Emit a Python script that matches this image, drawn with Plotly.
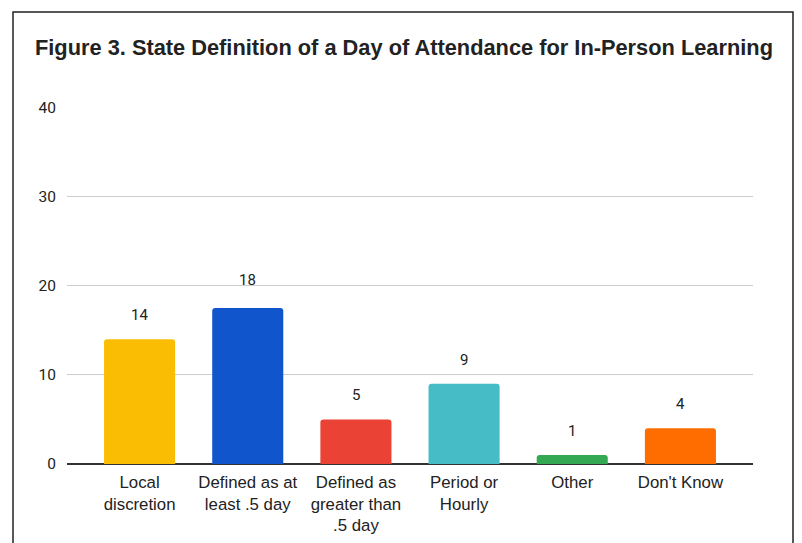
import plotly.graph_objects as go

categories = ["Local<br>discretion", "Defined as at<br>least .5 day", "Defined as<br>greater than<br>.5 day",
              "Period or<br>Hourly", "Other", "Don't Know"]
values = [14, 17.5, 5, 9, 1, 4]
labels = ["14", "18", "5", "9", "1", "4"]
label_pos = [14, 18, 5, 9, 1, 4]
colors = ["#FBBC04", "#1155CC", "#EA4335", "#46BDC6", "#34A853", "#FF6D01"]
y_ticks = [0, 10, 20, 30, 40]

W, H = 794, 535
top, bottom = 99, 456

fig = go.Figure()
fig.add_trace(go.Bar(x=categories, y=values, marker=dict(color=colors, line=dict(width=0), cornerradius=3),
                     hoverinfo="skip"))

for c, v, t in zip(categories, label_pos, labels):
    fig.add_annotation(x=c, y=v, text=t, showarrow=False, yshift=24,
                       font=dict(family="Roboto", size=15, color="#222222"))

ph = bottom - top
fig.add_shape(type="rect", xref="paper", yref="paper", x0=-0.0787, x1=1.0583,
              y0=-0.3, y1=(bottom - 4) / ph,
              line=dict(color="#222222", width=1.5), fillcolor="rgba(0,0,0,0)", layer="below")

fig.update_layout(
    width=W, height=H,
    margin=dict(l=59, r=W - 745, t=top, b=H - bottom),
    paper_bgcolor="white", plot_bgcolor="white",
    showlegend=False,
    bargap=0.343,
    title=dict(text="<b>Figure 3. State Definition of a Day of Attendance for In-Person Learning</b>",
               x=27 / W, xanchor="left", y=1 - 39 / H, yanchor="middle",
               font=dict(family="Liberation Sans, Arial", size=21.8, color="#222222")),
    xaxis=dict(range=[-0.671, 5.671], showgrid=False, zeroline=False, showline=False, ticks="",
               ticklabelstandoff=6, automargin=False,
               tickfont=dict(family="Liberation Sans, Arial", size=16.8, color="#222222")),
    yaxis=dict(range=[0, 40.05], tickvals=y_ticks, showgrid=True, gridcolor="#cccccc", gridwidth=1,
               zeroline=True, zerolinecolor="#333333", zerolinewidth=1.5, showline=False,
               ticks="", ticklabelstandoff=10, automargin=False,
               tickfont=dict(family="Roboto", size=15.5, color="#222222")),
)

fig.write_html("out.html")
